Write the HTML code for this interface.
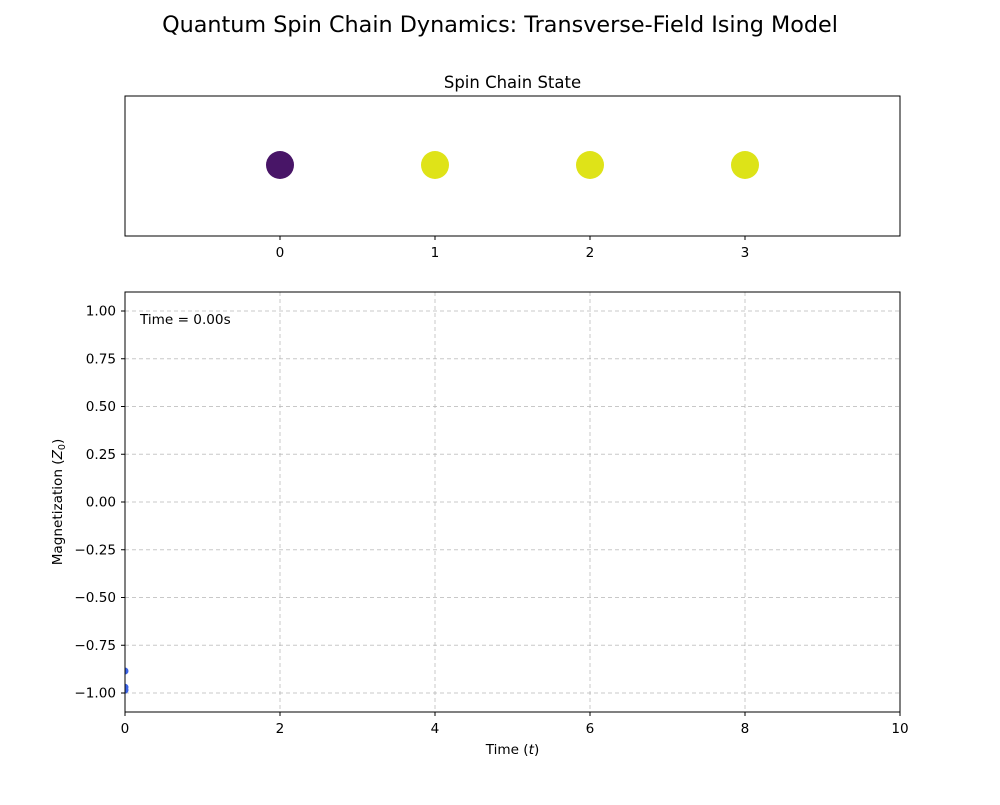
<!DOCTYPE html>
<html><head><meta charset="utf-8"><style>
body{margin:0;background:#fff;font-family:"Liberation Sans","DejaVu Sans",sans-serif}
</style></head><body>
<svg id="c" width="1000" height="800" xmlns="http://www.w3.org/2000/svg" font-family="DejaVu Sans, Liberation Sans, sans-serif">
<defs><clipPath id="plotclip"><rect x="125" y="292" width="775" height="420"/></clipPath></defs>
<text x="500" y="32" text-anchor="middle" style="font-size:22.3px">Quantum Spin Chain Dynamics: Transverse-Field Ising Model</text>
<text x="512.5" y="88" text-anchor="middle" style="font-size:16.5px">Spin Chain State</text>
<g id="topg"></g>
<g id="botg"></g>
</svg>
<script>
const spinSites=[0,1,2,3];
const spinColors=['#481567','#dfe318','#dfe318','#dde318'];
const topTicks=[0,1,2,3];
const magTimes=[0,0,0];
const magValues=[-0.885,-0.97,-0.985];
const xTicks=[0,2,4,6,8,10];
const yTicks=[1.00,0.75,0.50,0.25,0.00,-0.25,-0.50,-0.75,-1.00];
const NS='http://www.w3.org/2000/svg';
const FS='13.6';
function mk(p,t,a,txt){const e=document.createElementNS(NS,t);for(const k in a)e.setAttribute(k,a[k]);if(txt!==undefined)e.textContent=txt;p.appendChild(e);return e;}
const topG=document.getElementById('topg'),botG=document.getElementById('botg');
const tx=v=>125+(v+1)/5*775;
for(let i=0;i<spinSites.length;i++){
 const c=mk(topG,'circle',{cx:tx(spinSites[i]),cy:165,r:14,fill:spinColors[i]});
 
 
}
const tf=mk(topG,'rect',{x:125,y:96,width:775,height:140,fill:'none',stroke:'#000','stroke-width':1});


topTicks.forEach(v=>{
 mk(topG,'line',{x1:tx(v),x2:tx(v),y1:236,y2:240,stroke:'#000'});
 const t=mk(topG,'text',{x:tx(v),y:257,'text-anchor':'middle','font-size':FS},String(v));
 
 
});
const X=v=>125+v/10*775, Y=v=>502-v*191;
xTicks.forEach(v=>{
 mk(botG,'line',{x1:X(v),x2:X(v),y1:292,y2:712,stroke:'#b0b0b0','stroke-dasharray':'4,3','stroke-opacity':0.7});
 mk(botG,'line',{x1:X(v),x2:X(v),y1:712,y2:716,stroke:'#000'});
 const t=mk(botG,'text',{x:X(v),y:733,'text-anchor':'middle','font-size':FS},String(v));
 
 
});
yTicks.forEach(v=>{
 mk(botG,'line',{x1:125,x2:900,y1:Y(v),y2:Y(v),stroke:'#b0b0b0','stroke-dasharray':'4,3','stroke-opacity':0.7});
 mk(botG,'line',{x1:121,x2:125,y1:Y(v),y2:Y(v),stroke:'#000'});
 const t=mk(botG,'text',{x:116,y:Y(v)+4.5,'text-anchor':'end','font-size':FS},v.toFixed(2).replace('-','\u2212'));
 
 
});
const pts=mk(botG,'g',{'clip-path':'url(#plotclip)'});
for(let i=0;i<magValues.length;i++){
 const p=mk(pts,'circle',{cx:X(magTimes[i]),cy:Y(magValues[i]),r:3.5,fill:'#3b63e6'});
 
 
}
const bf=mk(botG,'rect',{x:125,y:292,width:775,height:420,fill:'none',stroke:'#000'});


const tl=mk(botG,'text',{x:140,y:324,'font-size':FS},'Time = 0.00s');


const xl=mk(botG,'text',{x:512.5,y:754,'text-anchor':'middle','font-size':FS});
xl.innerHTML='Time (<tspan font-style="italic">t</tspan>)';


const yl=mk(botG,'text',{x:0,y:0,'text-anchor':'middle','font-size':FS,transform:'translate(62,502) rotate(-90)'});
yl.innerHTML='Magnetization (<tspan font-style="italic">Z</tspan><tspan font-size="9.5" dy="3">0</tspan><tspan dy="-3">)</tspan>';


</script>
</body></html>
